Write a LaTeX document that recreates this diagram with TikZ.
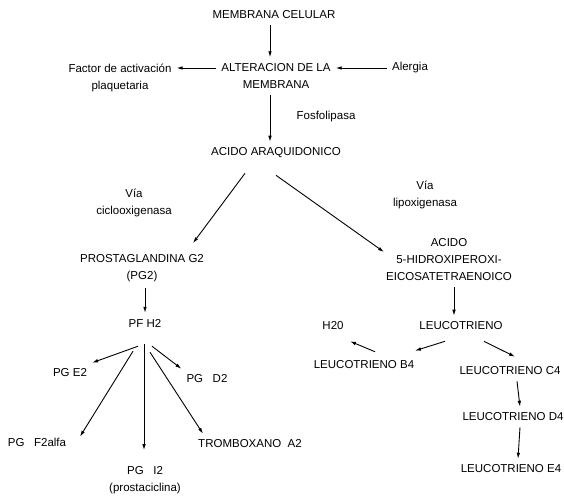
\documentclass[tikz,border=0pt]{standalone}
\usepackage{fontspec}
\setmainfont{Liberation Sans}
\usetikzlibrary{arrows.meta}
\begin{document}
\begin{tikzpicture}[x=1pt,y=-1pt,
  lbl/.style={inner xsep=5pt,inner ysep=6pt,align=center,font=\fontsize{11.5}{17}\selectfont},
  flecha/.style={-{Latex[length=6pt,width=3.6pt]},line width=0.9pt}]
\useasboundingbox (0,0) rectangle (564,501);
% membrana
\node[lbl] (mc) at (274,15) {MEMBRANA CELULAR};
\node[lbl] (alt) at (276,76) {ALTERACION DE LA\\MEMBRANA};
\node[lbl] (fap) at (120,78) {Factor de activación\\plaquetaria};
\node[lbl] (ale) at (410,68) {Alergia};
\node[lbl] (fos) at (326,117) {Fosfolipasa};
\node[lbl] (aa) at (276,153) {ACIDO ARAQUIDONICO};
\draw[flecha] ([xshift=-4]mc.south) -- ([xshift=-6]alt.north);
\draw[flecha] (alt.west |- ale.west) -- (fap.east |- ale.west);
\draw[flecha] (ale.west) -- (ale.west -| alt.east);
\draw[flecha] ([xshift=-6]alt.south) -- ([xshift=-6]aa.north);
% vias
\node[lbl] (vc) at (134,203) {Vía\\ciclooxigenasa};
\node[lbl] (vl) at (425,195) {Vía\\lipoxigenasa};
\node[lbl] (pg2) at (142,268) {PROSTAGLANDINA G2\\(PG2)};
\node[lbl] (hpe) at (449,260) {ACIDO\\5-HIDROXIPEROXI-\\EICOSATETRAENOICO};
\draw[flecha] ([xshift=-31,yshift=-9]aa.south) -- ([xshift=51,yshift=5]pg2.north);
\draw[flecha] ([yshift=-11]aa.south) -- ([xshift=3,yshift=8]hpe.west);
% ciclooxigenasa
\node[lbl] (pfh) at (145,323) {PF H2};
\node[lbl] (pge) at (70,373) {PG E2};
\node[lbl] (pgd) at (207,379) {PG\ \ \ D2};
\node[lbl] (pgf) at (37,442) {PG\ \ \ F2alfa};
\node[lbl] (trx) at (250,444) {TROMBOXANO\ \ A2};
\node[lbl] (pgi) at (145,480) {PG\ \ \ I2\\(prostaciclina)};
\draw[flecha] (pfh.north |- pg2.south) -- (pfh.north);
\draw[flecha] ([xshift=-7,yshift=-13]pfh.south) -- (pge.north east);
\draw[flecha] ([xshift=-12,yshift=-18]pfh.south) -- ([xshift=43,yshift=-5]pgf.north);
\draw[flecha] ([xshift=-1,yshift=-11]pfh.south) -- ([xshift=-1,yshift=10]pgi.north);
\draw[flecha] ([xshift=5,yshift=-19]pfh.south) -- ([xshift=-47]trx.north);
\draw[flecha] ([xshift=7,yshift=-13]pfh.south) -- (pgd.north west);
% lipoxigenasa
\node[lbl] (leu) at (461,326) {LEUCOTRIENO};
\node[lbl] (h20) at (333,326) {H20};
\node[lbl] (lb4) at (364,365) {LEUCOTRIENO B4};
\node[lbl] (lc4) at (510,371) {LEUCOTRIENO C4};
\node[lbl] (ld4) at (513,417) {LEUCOTRIENO D4};
\node[lbl] (le4) at (511,469) {LEUCOTRIENO E4};
\draw[flecha] ([xshift=5]hpe.south) -- ([xshift=-7]leu.north);
\draw[flecha] ([xshift=-16,yshift=-5]leu.south) -- ([xshift=51,yshift=4]lb4.north);
\draw[flecha] ([xshift=11,yshift=3]lb4.north) -- ([xshift=17,yshift=-5]h20.south);
\draw[flecha] ([xshift=23,yshift=-5]leu.south) -- ([xshift=5,yshift=4]lc4.north);
\foreach \a/\b in {lc4/ld4,ld4/le4}
  \draw[flecha] ([xshift=7]\a.south) -- ([xshift=7]\b.north);
\end{tikzpicture}
\end{document}
